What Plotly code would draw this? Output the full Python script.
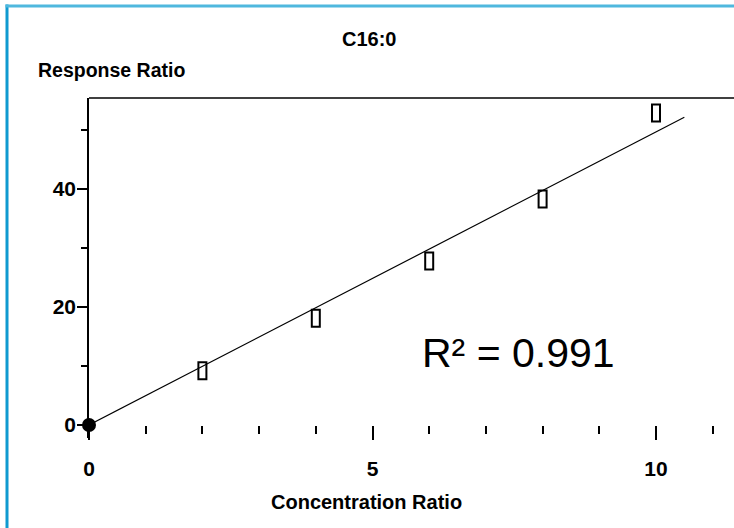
import numpy as np
import plotly.graph_objects as go

# ---- data ----
conc_ratio = [2, 4, 6, 8, 10]
response_ratio = [9.2, 18.1, 27.8, 38.3, 52.9]
origin_x = [0]
origin_y = [0]
x_tick_vals = [0, 5, 10]
x_tick_text = ["0", "5", "10"]
y_tick_vals = [0, 20, 40]
y_tick_text = ["0", "20", "40"]
fit_x_end = 10.5
title_text = "C16:0"
y_title = "Response Ratio"
x_title = "Concentration Ratio"
r2_text = "R² = 0.991"

# least-squares slope through origin
cx = np.array(conc_ratio, dtype=float)
cy = np.array(response_ratio, dtype=float)
slope = float((cx * cy).sum() / (cx * cx).sum())
fit_x = [0, fit_x_end]
fit_y = [slope * v for v in fit_x]

W, H = 734, 528
L, R, T, B = 89, 0, 98, 90
PW, PH = W - L - R, H - T - B

def px(xp):
    return (xp - L) / PW

def py(yp):
    return (H - B - yp) / PH

FONT = "Liberation Sans, Arial, sans-serif"

fig = go.Figure()
fig.add_trace(go.Scatter(x=fit_x, y=fit_y, mode="lines",
                         line=dict(color="black", width=1.2),
                         hoverinfo="skip", showlegend=False, cliponaxis=False))
# invisible markers for hover; the open rectangles are drawn as shapes anchored at the data
fig.add_trace(go.Scatter(x=conc_ratio, y=response_ratio, mode="markers",
                         marker=dict(size=10, opacity=0),
                         showlegend=False, cliponaxis=False))
fig.add_trace(go.Scatter(x=origin_x, y=origin_y, mode="markers",
                         marker=dict(symbol="circle", size=14, color="black"),
                         showlegend=False, cliponaxis=False))

x_scale = (656 - 89) / 10.0
y_scale = (425 - 189) / 40.0
x_max = PW / x_scale
y_min = -(H - B - 425) / y_scale
y_max = (425 - T) / y_scale

box_shapes = [
    dict(type="rect", xref="x", yref="y", xsizemode="pixel", ysizemode="pixel",
         xanchor=xv, yanchor=yv, x0=-4, x1=4, y0=-8.5, y1=8.5,
         line=dict(color="black", width=2), fillcolor="rgba(0,0,0,0)")
    for xv, yv in zip(conc_ratio, response_ratio)
]

fig.update_layout(
    width=W, height=H,
    margin=dict(l=L, r=R, t=T, b=B, pad=0),
    paper_bgcolor="white", plot_bgcolor="white",
    font=dict(family=FONT, color="black"),
    xaxis=dict(range=[0, x_max], showgrid=False, zeroline=False, showline=False,
               anchor="free", position=(H - B - 425) / PH,
               tickvals=x_tick_vals, ticktext=x_tick_text,
               ticks="outside", ticklen=14, tickwidth=1.5, tickcolor="black",
               minor=dict(dtick=1, ticks="outside", ticklen=8, tickwidth=1.5, tickcolor="black"),
               tickfont=dict(family=FONT, size=21, weight="bold", color="black"),
               ticklabelstandoff=11),
    yaxis=dict(range=[y_min, y_max], showgrid=False, zeroline=False,
               showline=True, linecolor="black", linewidth=1.5,
               tickvals=y_tick_vals, ticktext=y_tick_text,
               ticks="outside", ticklen=10, tickwidth=1.5, tickcolor="black",
               minor=dict(dtick=10, ticks="outside", ticklen=6, tickwidth=1.5, tickcolor="black"),
               tickfont=dict(family=FONT, size=21, weight="bold", color="black"),
               ticklabelstandoff=-3),
    shapes=[
        dict(type="line", xref="paper", yref="paper", x0=0, x1=1, y0=1, y1=1,
             line=dict(color="black", width=1.5)),
        dict(type="line", xref="paper", yref="paper", x0=px(7), x1=px(7), y0=py(4.5), y1=py(540),
             line=dict(color="#0f9ad0", width=3)),
        dict(type="line", xref="paper", yref="paper", x0=px(5.5), x1=px(740), y0=py(6), y1=py(6),
             line=dict(color="#4fb8de", width=3)),
    ] + box_shapes,
    annotations=[
        dict(text=title_text, xref="paper", yref="paper", x=px(369), y=py(39),
             xanchor="center", yanchor="middle", showarrow=False,
             font=dict(family=FONT, size=20, weight="bold")),
        dict(text=y_title, xref="paper", yref="paper", x=px(36), y=py(70),
             xanchor="left", yanchor="middle", showarrow=False,
             font=dict(family=FONT, size=19.5, weight="bold")),
        dict(text=x_title, xref="paper", yref="paper", x=px(366), y=py(502),
             xanchor="center", yanchor="middle", showarrow=False,
             font=dict(family=FONT, size=20, weight="bold")),
        dict(text=r2_text, xref="paper", yref="paper", x=px(420), y=py(353),
             xanchor="left", yanchor="middle", showarrow=False,
             font=dict(family=FONT, size=41)),
    ],
)

fig.write_html("out.html", config={"displayModeBar": False},
               post_script="document.body.style.margin='0px';")
